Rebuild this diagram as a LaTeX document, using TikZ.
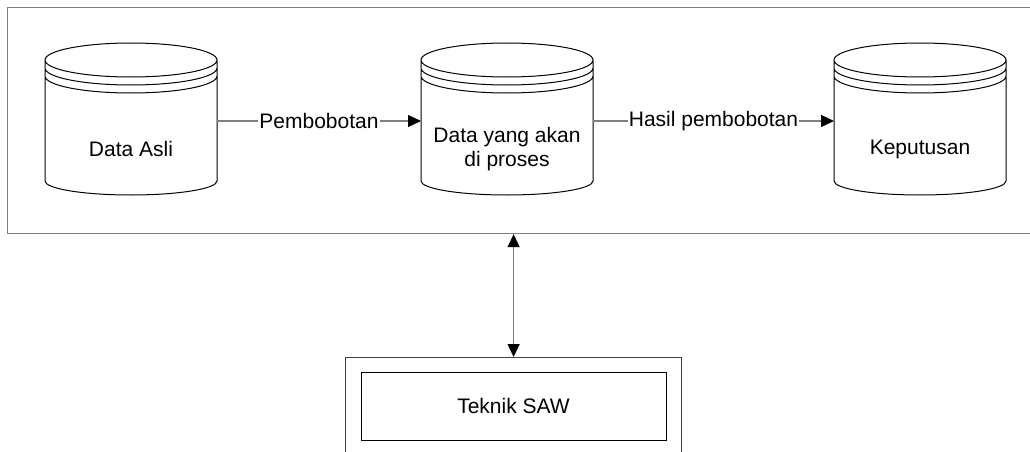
\documentclass[tikz,border=0pt]{standalone}
\usepackage{fontspec}
\setmainfont{Liberation Sans}
\usetikzlibrary{arrows.meta}
\definecolor{framegray}{HTML}{7F7F7F}
\definecolor{boxgray}{HTML}{404040}
\begin{document}
\begin{tikzpicture}[x=1pt, y=-1pt, line width=1pt,
  font=\fontsize{21}{24}\selectfont,
  frame/.style={draw=framegray, line width=1.2pt, inner sep=0pt},
  conn/.style={draw=framegray, line width=1.2pt, -{Triangle[length=13pt, width=12pt, color=black]}},
  lbl/.style={fill=white, inner sep=1pt},
  pics/dbcyl/.style={code={
    % top disc with two extra rims, side walls and rounded base
    \draw[black, line width=1pt]
      (0,0) ellipse [x radius=86, y radius=17]
      (-86,8) arc [start angle=180, end angle=0, x radius=86, y radius=17]
      (-86,16) arc [start angle=180, end angle=0, x radius=86, y radius=17]
      (-86,0) -- (-86,121)
      arc [start angle=180, end angle=0, x radius=86, y radius=14]
      -- (86,0);
    \coordinate (-w) at (-86,61);
    \coordinate (-e) at (86,61);
    \node[align=center] (-txt) at (0,89) {#1};
  }}]
\useasboundingbox (0,0) rectangle (1030,452);
\clip (0,0) rectangle (1030,452);

% system frame holding the three data stores
\node (sys) [frame, anchor=north west, minimum width=1040pt, minimum height=226pt] at (7,7) {};

\pic (c1) at (131,60) {dbcyl={Data Asli}};
\pic (c2) at (507,60) {dbcyl={Data yang akan\\di proses}};
\pic (c3) at (920,60) {dbcyl={Keputusan}};

\draw[conn] (c1-e) -- node[lbl] {Pembobotan} (c2-w);
\draw[conn] (c2-e) -- node[lbl] {Hasil pembobotan} (c3-w);

% method block below the frame
\node (saw) [draw=boxgray, line width=1.2pt, anchor=north west, minimum width=336pt, minimum height=120pt, inner sep=0pt] at (345,357) {};
\node (sawin) [draw=black, line width=1pt, minimum width=305pt, minimum height=68pt, inner sep=0pt] at (513.5,406) {Teknik SAW};

\draw[draw=framegray, line width=1.2pt, {Triangle[length=13pt, width=12pt, color=black]}-{Triangle[length=13pt, width=12pt, color=black]}]
  (sys.south -| saw.north) -- (saw.north);
\end{tikzpicture}
\end{document}
